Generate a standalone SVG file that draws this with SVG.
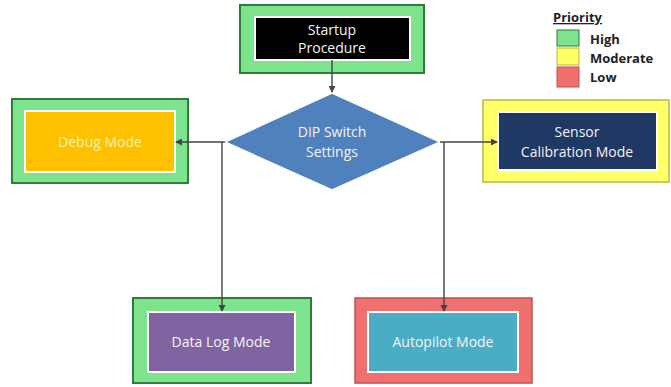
<svg xmlns="http://www.w3.org/2000/svg" width="671" height="387" viewBox="0 0 671 387">
<defs>
<marker id="ah" markerWidth="7" markerHeight="7" refX="6" refY="3.5" orient="auto" markerUnits="userSpaceOnUse">
<path d="M0,0 L7,3.5 L0,7 Z" fill="#444"/>
</marker>
<style>
.t{font-family:"Open Sans","Liberation Sans",Arial,sans-serif;font-size:14px;text-anchor:middle;fill:#f4f4f4}
.og{fill:#7de38c;stroke:#2f7d3a;stroke-width:2}
.oy{fill:#ffff66;stroke:#b8b84a;stroke-width:1.5}
.or{fill:#f07070;stroke:#c05050;stroke-width:1.5}
.in{stroke:#fff;stroke-width:2}
.c{fill:none;stroke:#444;stroke-width:1.4}
.lg{font-family:"Open Sans","Liberation Sans",Arial,sans-serif;font-size:13px;font-weight:bold;fill:#222}
</style>
</defs>
<rect width="671" height="387" fill="#fff"/>
<g id="startup">
<rect class="og" x="240" y="5" width="184" height="68"/>
<rect class="in" x="255" y="17" width="155" height="43" fill="#000"/>
<text class="t" x="332" y="35">Startup</text>
<text class="t" x="332" y="53">Procedure</text>
</g>
<g id="dip">
<polygon points="332,93 440,142 332,190 225,142" fill="#4f81bd" stroke="#fff" stroke-width="1.5"/>
<text class="t" x="332" y="137">DIP Switch</text>
<text class="t" x="332" y="157">Settings</text>
</g>
<g id="debug">
<rect class="og" x="12" y="99" width="176" height="84"/>
<rect class="in" x="25" y="111" width="150" height="61" fill="#ffc000"/>
<text class="t" x="100" y="147" style="fill:#fff3b0">Debug Mode</text>
</g>
<g id="sensor">
<rect class="oy" x="483" y="100" width="186" height="82"/>
<rect class="in" x="498" y="112" width="159" height="58" fill="#1f3864"/>
<text class="t" x="577" y="137">Sensor</text>
<text class="t" x="577" y="157">Calibration Mode</text>
</g>
<g id="datalog">
<rect class="og" x="133" y="298" width="178" height="85"/>
<rect class="in" x="148" y="312" width="147" height="60" fill="#8064a2"/>
<text class="t" x="221" y="347">Data Log Mode</text>
</g>
<g id="autopilot">
<rect class="or" x="355" y="298" width="177" height="85"/>
<rect class="in" x="368" y="312" width="150" height="60" fill="#4bacc6"/>
<text class="t" x="443" y="347">Autopilot Mode</text>
</g>
<g id="legend">
<text class="lg" x="553" y="22" text-decoration="underline">Priority</text>
<rect x="557" y="30" width="22" height="16" fill="#7de38c" stroke="#2f7d3a" stroke-width="1"/>
<rect x="557" y="48" width="22" height="17" fill="#ffff66" stroke="#b8b84a" stroke-width="1"/>
<rect x="557" y="67" width="22" height="20" fill="#f07070" stroke="#c05050" stroke-width="1"/>
<text class="lg" x="590" y="44">High</text>
<text class="lg" x="590" y="63">Moderate</text>
<text class="lg" x="590" y="82">Low</text>
</g>
<g id="connectors">
<line class="c" x1="332" y1="60" x2="332" y2="92" marker-end="url(#ah)"/>
<polyline class="c" points="225,142 176,142" marker-end="url(#ah)"/>
<polyline class="c" points="222,142 222,311" marker-end="url(#ah)"/>
<polyline class="c" points="440,142 497,142" marker-end="url(#ah)"/>
<polyline class="c" points="444,142 444,311" marker-end="url(#ah)"/>
</g>
</svg>
